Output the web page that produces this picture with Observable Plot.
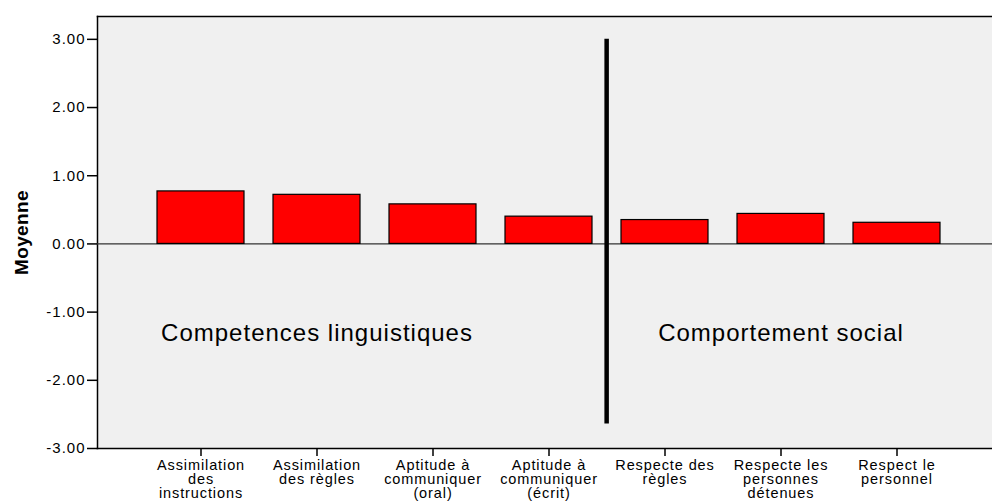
<!DOCTYPE html>
<html>
<head>
<meta charset="utf-8">
<script src="https://cdn.jsdelivr.net/npm/d3@7"></script>
<script src="https://cdn.jsdelivr.net/npm/@observablehq/plot@0.6"></script>
<style>
  html, body { margin: 0; padding: 0; background: #ffffff; overflow: hidden; }
  svg { font-family: "Liberation Sans", Arial, sans-serif; }
  g[aria-label="x-axis tick label"] text { font-size: 14.5px; letter-spacing: 0.9px; }
  g[aria-label="y-axis tick label"] text { font-size: 15px; letter-spacing: 1px; }
  g[aria-label="y-axis label"] text { font-weight: bold; font-size: 19px; letter-spacing: 0.4px; }
  g[aria-label="text"] text { font-size: 24px; letter-spacing: 1px; }
</style>
</head>
<body>
<div id="chart"></div>
<script>
const categories = [
  "Assimilation\ndes\ninstructions",
  "Assimilation\ndes règles",
  "Aptitude à\ncommuniquer\n(oral)",
  "Aptitude à\ncommuniquer\n(écrit)",
  "Respecte des\nrègles",
  "Respecte les\npersonnes\ndétenues",
  "Respect le\npersonnel"
];
const values = [0.77, 0.72, 0.58, 0.40, 0.35, 0.44, 0.31];
const groupLabels = ["Competences linguistiques", "Comportement social"];
const groupAnchors = [categories[1], categories[5]];
const groupY = [-1.31, -1.31];
const dividerCategory = categories[4];
const dividerRange = [3.0, -2.64];
const yTicks = [-3, -2, -1, 0, 1, 2, 3];

const data = categories.map((c, i) => ({category: c, value: values[i]}));
const groups = groupLabels.map((g, i) => ({label: g, category: groupAnchors[i], y: groupY[i]}));

const xRange = [140.5, 957.5];
const step = (xRange[1] - xRange[0]) / categories.length;

const chart = Plot.plot({
  width: 992,
  height: 502,
  marginLeft: 97,
  marginRight: 0,
  marginTop: 16,
  marginBottom: 54,
  style: {background: "#ffffff", color: "#000000", fontFamily: "'Liberation Sans', Arial, sans-serif"},
  x: {domain: categories, range: xRange, paddingInner: 0.246, paddingOuter: 0.123, label: null},
  y: {domain: [-3, 3.335], label: "Moyenne"},
  marks: [
    Plot.frame({fill: "#f0f0f0", stroke: null}),
    Plot.frame({anchor: "left", stroke: "#000", strokeWidth: 1.5}),
    Plot.frame({anchor: "top", stroke: "#000", strokeWidth: 1.5}),
    Plot.frame({anchor: "bottom", stroke: "#000", strokeWidth: 1.5}),
    Plot.ruleY([0], {stroke: "#333", strokeWidth: 1.2}),
    Plot.barY(data, {x: "category", y: "value", fill: "#ff0000", stroke: "#000", strokeWidth: 1.2}),
    Plot.ruleX([dividerCategory], {x: d => d, y1: dividerRange[0], y2: dividerRange[1], dx: -step / 2, stroke: "#000", strokeWidth: 4.5}),
    Plot.text(groups, {x: "category", y: "y", text: "label", fontSize: 24, fill: "#000"}),
    Plot.axisY({ticks: yTicks, tickFormat: d => d.toFixed(2), tickSize: 10, tickPadding: 2, fontSize: 15, label: "Moyenne", labelAnchor: "center", labelOffset: 83, labelArrow: "none", stroke: "#000", strokeWidth: 1.5}),
    Plot.axisX({tickSize: 8, tickPadding: 3, fontSize: 14.5, lineHeight: 0.99, label: null, stroke: "#000", strokeWidth: 1.5})
  ]
});
document.getElementById("chart").appendChild(chart);
</script>
</body>
</html>
